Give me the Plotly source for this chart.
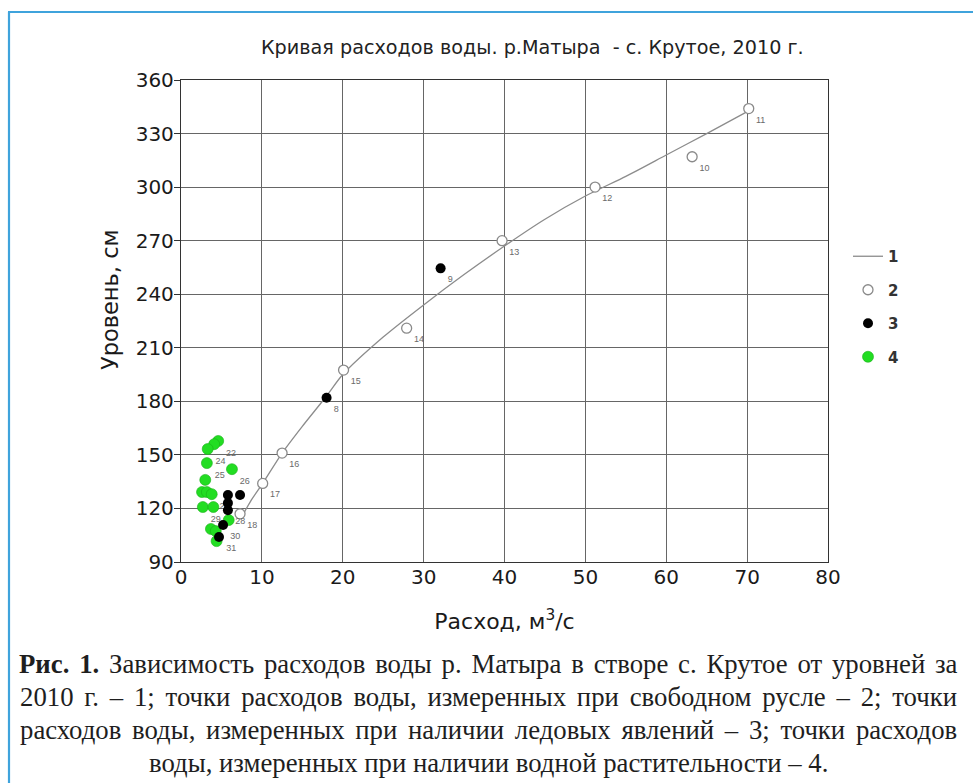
import plotly.graph_objects as go

# Rating curve (1): discharge Q, m3/s vs stage H, cm
curve_q = [7.6, 8.6, 10.1, 12.5, 15.0, 18.0, 20.0, 25.0, 30.0, 35.0, 40.0, 45.0, 50.0, 55.0, 60.0, 65.0, 70.3]
curve_h = [116, 124, 134, 151, 166, 183, 195, 216, 234, 251, 267, 282, 295, 306, 318, 330, 343]

# Open-channel measurements (2)
open_q = [70.2, 63.2, 51.2, 39.7, 27.9, 20.1, 12.5, 10.1, 7.3]
open_h = [344, 317, 300, 270, 221, 197.5, 151, 134, 117]
open_lbl = ["11", "10", "12", "13", "14", "15", "16", "17", "18"]

# Ice-affected measurements (3)
ice_q = [32.1, 18.0, 5.8, 7.3, 5.8, 5.8, 5.2, 4.7]
ice_h = [254.5, 182, 127.5, 127.5, 123, 119, 110.7, 104]
ice_lbl = ["9", "8", "", "", "", "28", "30", "31"]

# Vegetation-affected measurements (4)
veg_q = [4.6, 4.1, 3.3, 3.2, 6.3, 3.0, 2.6, 3.2, 3.8, 2.7, 4.0, 3.7, 4.3, 4.4, 5.9]
veg_h = [157.8, 156, 153.3, 145.4, 142, 136, 129.2, 129.2, 128, 120.8, 120.8, 108.5, 107.3, 101.7, 113.5]
veg_lbl = ["22", "", "24", "25", "26", "", "", "", "27", "29", "", "", "", "", ""]

x_ticks = [0, 10, 20, 30, 40, 50, 60, 70, 80]
y_ticks = [90, 120, 150, 180, 210, 240, 270, 300, 330, 360]

title_text = "Кривая расходов воды. р.Матыра  - с. Крутое, 2010 г."
x_title = "Расход, м<sup>3</sup>/с"
y_title = "Уровень, см"
caption_lines = [
    "<b>Рис. 1.</b> Зависимость расходов воды р. Матыра в створе с. Крутое от уровней за",
    "2010 г. – 1; точки расходов воды, измеренных при свободном русле – 2; точки",
    "расходов воды, измеренных при наличии ледовых явлений – 3; точки расходов",
    "воды, измеренных при наличии водной растительности – 4.",
]
# size (px) of the extra space added to every word gap of a justified line
caption_gap = [12.5, 16.5, 16, 0]

W, H = 973, 783
L, R, T, B = 181, 828, 80, 562  # plot area edges in pixels
CAP_SIZE = 26.75


def px(xp):
    return (xp - L) / (R - L)


def py(yp):
    return (B - yp) / (B - T)


def justify(text, gap_size):
    """Widen every word gap by a non-breaking space of the given font size."""
    if gap_size <= 0:
        return text
    extra = "<span style='font-size:%.1fpx'>\u00a0</span>" % gap_size
    return (" " + extra).join(text.split(" "))


lbl_font = dict(family="Liberation Sans", size=9, color="#6a6a6a")

fig = go.Figure()
fig.add_trace(go.Scatter(
    x=curve_q, y=curve_h, mode="lines", name="1",
    line=dict(color="#8c8c8c", width=1.3, shape="spline", smoothing=0.7),
    legendgroup="a", legendrank=1, hoverinfo="skip"))
fig.add_trace(go.Scatter(
    x=open_q, y=open_h, mode="markers+text", name="2", text=open_lbl,
    textposition="bottom right", textfont=lbl_font,
    marker=dict(symbol="circle", size=10, color="white",
                line=dict(color="#8a8a8a", width=1.3)),
    legendgroup="b", legendrank=2))
fig.add_trace(go.Scatter(
    x=veg_q, y=veg_h, mode="markers+text", name="4", text=veg_lbl,
    textposition="bottom right", textfont=lbl_font,
    marker=dict(symbol="circle", size=11, color="#22dd22",
                line=dict(color="#19b019", width=0.6)),
    legendgroup="d", legendrank=4))
fig.add_trace(go.Scatter(
    x=ice_q, y=ice_h, mode="markers+text", name="3", text=ice_lbl,
    textposition="bottom right", textfont=lbl_font,
    marker=dict(symbol="circle", size=10, color="black"),
    legendgroup="c", legendrank=3))

axis_common = dict(
    showgrid=True, gridcolor="#666666", gridwidth=1.2,
    showline=True, linecolor="#333333", linewidth=1.3, mirror=True,
    zeroline=False,
    tickfont=dict(family="DejaVu Sans", size=20, color="#1a1a1a"),
)

fig.update_xaxes(
    range=[0, 80], tickvals=x_ticks, ticks="", ticklabelstandoff=-3,
    title=dict(text=x_title, standoff=25,
               font=dict(family="DejaVu Sans", size=22, color="#1a1a1a")),
    **axis_common)
fig.update_yaxes(
    range=[90, 360], tickvals=y_ticks, ticks="outside", ticklen=6,
    tickcolor="#333333", ticklabelstandoff=-4,
    **axis_common)

shapes = [
    dict(type="line", xref="paper", yref="paper", x0=px(9), x1=px(9),
         y0=py(12), y1=py(H + 10), line=dict(color="#3fa3dc", width=2.2)),
    dict(type="line", xref="paper", yref="paper", x0=px(8), x1=px(W),
         y0=py(12), y1=py(12), line=dict(color="#3fa3dc", width=2.2)),
]

annotations = [
    dict(text=title_text, xref="paper", yref="paper", x=px(532), y=py(47),
         xanchor="center", yanchor="middle", showarrow=False,
         font=dict(family="DejaVu Sans", size=19.2, color="#222222")),
    dict(text=y_title, xref="paper", yref="paper", x=px(110), y=py(300),
         xanchor="center", yanchor="middle", showarrow=False, textangle=-90,
         font=dict(family="DejaVu Sans", size=22.5, color="#1a1a1a")),
]
cap_y = [664, 697, 730, 763]
for line, gap, yy in zip(caption_lines, caption_gap, cap_y):
    annotations.append(dict(
        text=justify(line, gap), xref="paper", yref="paper", x=px(488), y=py(yy),
        xanchor="center", yanchor="middle", showarrow=False,
        font=dict(family="Liberation Serif", size=CAP_SIZE, color="#1e1e1e")))

fig.update_layout(
    width=W, height=H,
    margin=dict(l=L, r=W - R, t=T, b=H - B, pad=0),
    paper_bgcolor="white", plot_bgcolor="white",
    showlegend=True,
    legend=dict(x=px(848), y=py(240), xanchor="left", yanchor="top",
                tracegroupgap=11, bgcolor="rgba(0,0,0,0)",
                font=dict(family="DejaVu Sans", size=15, color="#333333",
                          weight="bold")),
    shapes=shapes, annotations=annotations,
)

fig.write_html("out.html")
